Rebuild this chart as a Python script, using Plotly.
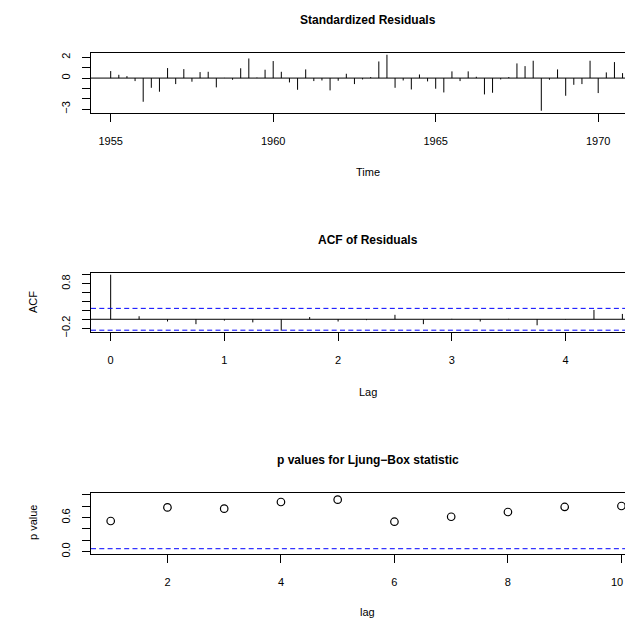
import plotly.graph_objects as go

# a página põe 8 px de margem no body; a área visível da figura vai de 8 a 625 px
OFF = 8
W, H = 633 - 2 * OFF, 624 - OFF
FONT = "Liberation Sans, Arial, Helvetica, sans-serif"

# série trimestral de resíduos padronizados (início 1955, frequência 4)
RES_START = 1955.0
RES_FREQ = 4
std_resid = [
    0.68, 0.32, 0.19, -0.29, -2.29, -0.94, -1.32, 0.97,
    -0.58, 0.87, -0.35, 0.58, 0.61, -0.90, 0.02, -0.16,
    0.95, 1.90, 0.05, 0.81, 1.65, 0.61, -0.42, -1.13,
    0.84, -0.29, -0.23, -1.19, -0.26, 0.42, -0.58, -0.13,
    0.10, 1.61, 2.26, -0.94, -0.23, -1.10, 0.35, -0.32,
    -1.03, -1.39, 0.65, -0.29, 0.65, 0.13, -1.58, -1.42,
    -0.13, 0.10, 1.42, 1.16, 1.68, -3.16, -0.16, 0.84,
    -1.71, -0.65, -0.58, 1.68, -1.45, 0.55, 1.55, 0.48,
]
res_xticks = [1955, 1960, 1965, 1970]
res_yticks = [-3, -2, -1, 0, 1, 2]
res_ylabels = ["\u22123", "", "", "0", "", "2"]

# ACF dos resíduos, lags 0..18 trimestres
acf_vals = [
    1.0, 0.068, -0.05, -0.11, -0.03, -0.07, -0.256, 0.05, -0.05,
    -0.02, 0.10, -0.11, 0.01, -0.05, 0.01, -0.135, -0.01, 0.21, 0.12,
]
acf_ci = 0.245
acf_xticks = [0, 1, 2, 3, 4]
acf_yticks = [-0.2, 0.0, 0.2, 0.4, 0.6, 0.8, 1.0]
acf_ylabels = ["\u22120.2", "", "", "", "", "0.8", ""]

# p-valores do teste de Ljung-Box
lb_lags = [1, 2, 3, 4, 5, 6, 7, 8, 9, 10]
lb_pvalues = [0.54, 0.78, 0.758, 0.876, 0.917, 0.527, 0.615, 0.699, 0.788, 0.805]
lb_level = 0.05
lb_xticks = [2, 4, 6, 8, 10]
lb_xlabels = ["2", "4", "6", "8", ""]  # "10" vai como anotação, encostado na borda
lb_yticks = [0.0, 0.2, 0.4, 0.6, 0.8, 1.0]
lb_ylabels = ["0.0", "", "", "0.6", "", ""]


def px(x):
    return (x - OFF) / W


def py(y):
    return 1 - (y - OFF) / H


def spikes(xs, ys):
    """Linhas verticais a partir de zero (type='h' do R)."""
    sx, sy = [], []
    for a, b in zip(xs, ys):
        sx += [a, a, None]
        sy += [0, b, None]
    return sx, sy


def x_axis(anchor, rng, tickvals, ticktext=None):
    return dict(
        domain=[px(91), 1], anchor=anchor, range=rng, automargin=False,
        showline=True, mirror=True, linecolor="black", linewidth=1,
        ticks="outside", ticklen=8, tickwidth=1, tickcolor="black",
        tickvals=tickvals, ticktext=ticktext or [str(v) for v in tickvals],
        ticklabelstandoff=10,
        showgrid=False, zeroline=False,
        tickfont=dict(family=FONT, size=11, color="black"),
    )


def y_axis(anchor, top, bottom, rng, tickvals, ticktext):
    return dict(
        domain=[py(bottom), py(top)], anchor=anchor, range=rng, automargin=False,
        showline=True, mirror=False, linecolor="black", linewidth=1,
        ticks="outside", ticklen=8, tickwidth=1, tickcolor="black",
        tickvals=tickvals, ticktext=ticktext, tickangle=-90, ticklabelstandoff=8,
        showgrid=False, zeroline=False,
        tickfont=dict(family=FONT, size=11, color="black"),
    )


def hline(xref, yref, y, color="black", dash="solid"):
    return dict(
        type="line", xref=f"{xref} domain", yref=yref, x0=0, x1=1, y0=y, y1=y,
        line=dict(color=color, width=1, dash=dash), layer="above",
    )


def text(x, y, s, size=11, bold=False, angle=0, xanchor="center"):
    return dict(
        x=px(x), y=py(y), xref="paper", yref="paper", text=f"<b>{s}</b>" if bold else s,
        showarrow=False, textangle=angle, xanchor=xanchor, yanchor="middle",
        font=dict(family=FONT, size=size, color="black"),
    )


fig = go.Figure()

res_t = [RES_START + i / RES_FREQ for i in range(len(std_resid))]
sx, sy = spikes(res_t, std_resid)
fig.add_trace(go.Scatter(x=sx, y=sy, mode="lines", line=dict(color="black", width=1),
                         xaxis="x", yaxis="y", showlegend=False))

acf_lags = [i / RES_FREQ for i in range(len(acf_vals))]
sx, sy = spikes(acf_lags, acf_vals)
fig.add_trace(go.Scatter(x=sx, y=sy, mode="lines", line=dict(color="black", width=1),
                         xaxis="x2", yaxis="y2", showlegend=False))

fig.add_trace(go.Scatter(x=lb_lags, y=lb_pvalues, mode="markers",
                         marker=dict(symbol="circle-open", size=7.5, color="black", line=dict(width=1.2)),
                         xaxis="x3", yaxis="y3", showlegend=False, cliponaxis=False))

dash = "5px,3.3px"
fig.update_layout(
    width=W, height=H,
    margin=dict(l=0, r=0, t=0, b=0),
    paper_bgcolor="white", plot_bgcolor="white",
    font=dict(family=FONT, size=11, color="black"),
    xaxis=x_axis("y", [1954.394, 1970.825], res_xticks),
    yaxis=y_axis("x", 53.3, 112.7, [-3.35, 2.40], res_yticks, res_ylabels),
    xaxis2=x_axis("y2", [-0.173, 4.523], acf_xticks),
    yaxis2=y_axis("x2", 272.7, 332.2, [-0.29, 1.045], acf_yticks, acf_ylabels),
    xaxis3=x_axis("y3", [0.653, 10.063], lb_xticks, lb_xlabels),
    yaxis3=y_axis("x3", 492.7, 553.8, [-0.04, 1.04], lb_yticks, lb_ylabels),
    shapes=[
        hline("x", "y", 0),
        hline("x2", "y2", 0),
        hline("x2", "y2", acf_ci, color="blue", dash=dash),
        hline("x2", "y2", -acf_ci, color="blue", dash=dash),
        hline("x3", "y3", lb_level, color="blue", dash=dash),
    ],
    annotations=[
        text(368, 20, "Standardized Residuals", size=12, bold=True),
        text(368, 172, "Time"),
        text(368, 240, "ACF of Residuals", size=12, bold=True),
        text(368, 392, "Lag"),
        text(33, 302, "ACF", angle=-90),
        text(368, 460, "p values for Ljung\u2212Box statistic", size=12, bold=True),
        text(625, 582, "10", xanchor="right"),
        text(368, 612, "lag"),
        text(33, 523, "p value", angle=-90),
    ],
)

fig.write_html("out.html")
